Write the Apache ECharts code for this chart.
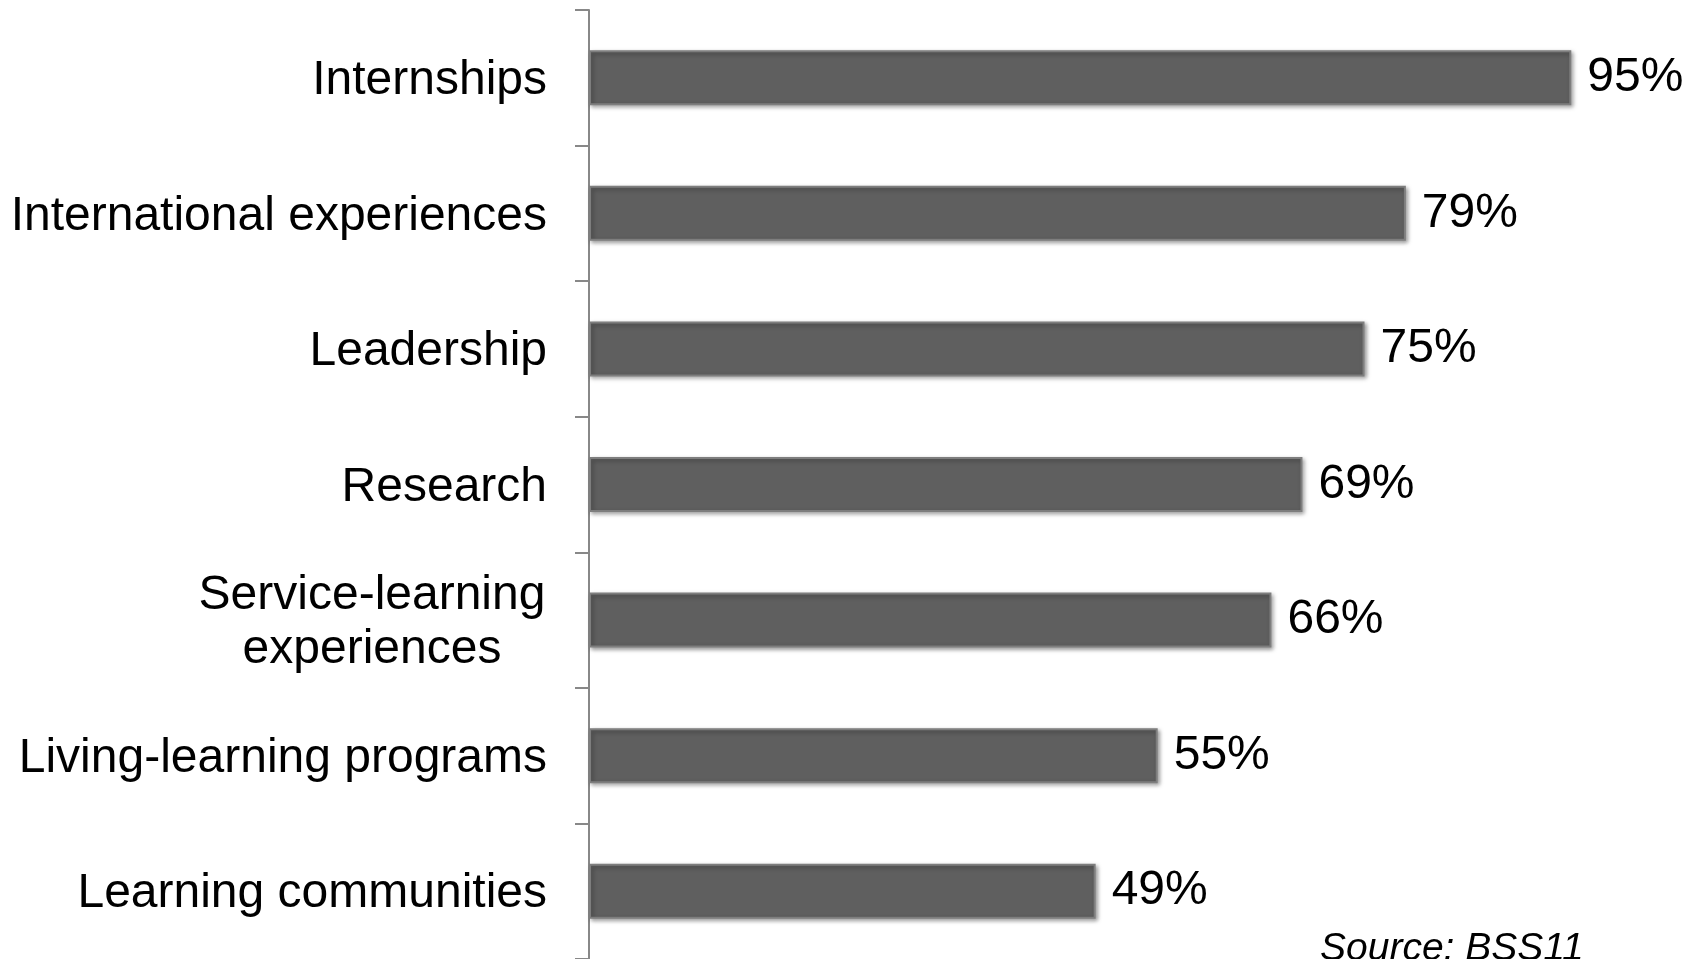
<!DOCTYPE html>
<html lang="en">
<head>
  <meta charset="UTF-8">
  <title>Experiences</title>
  <script src="https://cdn.jsdelivr.net/npm/echarts@6/dist/echarts.min.js"></script>
  <style>
    html, body { margin: 0; padding: 0; background: #fff; }
  </style>
</head>
<body>
<div id="chart" style="width: 1693px;height: 959px"></div>
<script>
  var categories = ['Internships', 'International experiences', 'Leadership', 'Research',
    'Service-learning experiences', 'Living-learning programs', 'Learning communities'];
  var values = [95, 79, 75, 69, 66, 55, 49];
  var sourceNote = 'Source: BSS11';

  var font = '"Liberation Sans", Arial, sans-serif';
  var chart = echarts.init(document.getElementById('chart'));

  var option = {
    animation: false,
    grid: { left: 589, top: 10, width: 1034, height: 952 },
    xAxis: { type: 'value', min: 0, max: 100, show: false },
    yAxis: {
      type: 'category',
      inverse: true,
      data: categories,
      axisLine: { show: true, lineStyle: { color: '#888', width: 2 } },
      axisTick: { show: true, length: 14, lineStyle: { color: '#888', width: 2 } },
      axisLabel: {
        margin: 42,
        fontFamily: font,
        fontSize: 48,
        color: '#000',
        padding: [6, 0, 0, 0],
        formatter: function (v) {
          // two-line label, centred lines
          if (v === 'Service-learning experiences') {
            return '{c|Service-learning}\n{c|experiences}';
          }
          return v;
        },
        rich: {
          c: { width: 350, align: 'center', fontSize: 48, fontFamily: font, color: '#000', lineHeight: 54 }
        }
      }
    },
    series: [{
      type: 'bar',
      data: values,
      barWidth: 55,
      itemStyle: {
        color: '#5f5f5f',
        borderColor: '#7e7e7e',
        borderWidth: 2,
        shadowBlur: 4,
        shadowColor: 'rgba(0,0,0,0.35)',
        shadowOffsetX: 2,
        shadowOffsetY: 2
      },
      label: {
        show: true,
        position: 'right',
        distance: 16,
        fontFamily: font,
        fontSize: 48,
        color: '#000',
        padding: [7, 0, 0, 0],
        formatter: '{c}%'
      }
    }],
    graphic: [{
      type: 'text',
      left: 1320,
      top: 930,
      style: {
        text: sourceNote,
        font: 'italic 39px ' + font,
        fill: '#000'
      }
    }]
  };

  chart.setOption(option);
</script>
</body>
</html>
